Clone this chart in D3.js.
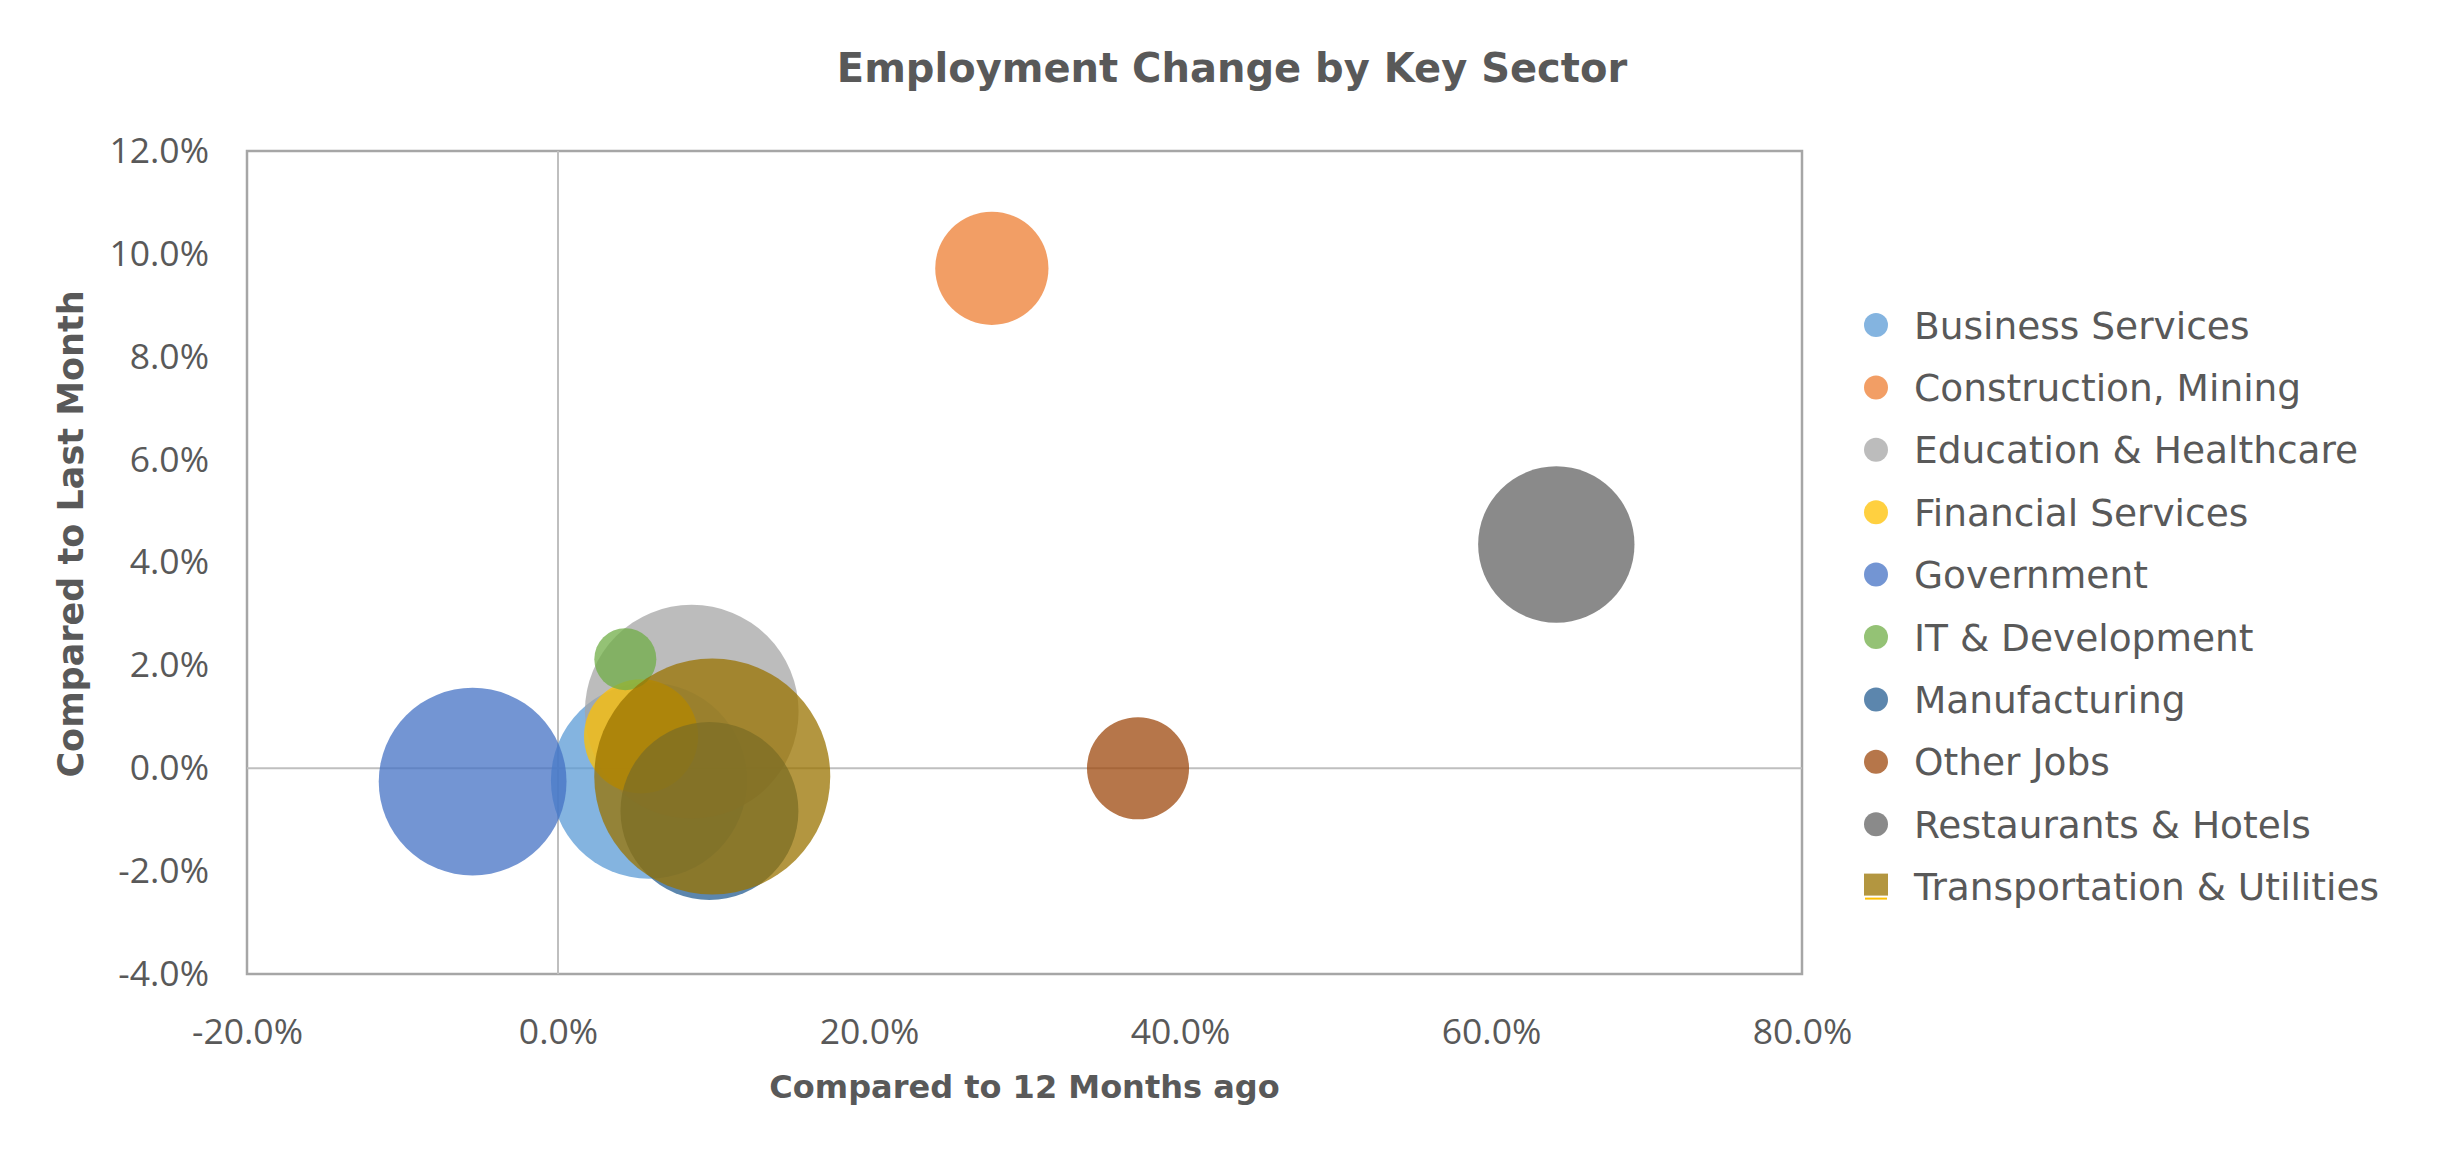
<!DOCTYPE html>
<html>
<head>
<meta charset="utf-8">
<script src="https://cdn.jsdelivr.net/npm/d3@7"></script>
<style>
  body { margin: 0; background: #ffffff; }
</style>
</head>
<body>
<div id="scatter"></div>
<script>
// data
var sectors = ["Business Services", "Construction, Mining", "Education & Healthcare",
  "Financial Services", "Government", "IT & Development", "Manufacturing",
  "Other Jobs", "Restaurants & Hotels", "Transportation & Utilities"];
var yearChange = [0.0585, 0.279, 0.086, 0.0534, -0.0549, 0.0433, 0.0974, 0.373, 0.642, 0.0992];
var monthChange = [-0.0024, 0.0972, 0.011, 0.0062, -0.0026, 0.0212, -0.0083, 0.0, 0.0435, -0.0016];
var bubbleSize = [96, 32, 114, 32.5, 88, 9.6, 79, 26, 61, 139];
var colors = ["#5B9BD5", "#ED7D31", "#A5A5A5", "#FFC000", "#4472C4", "#70AD47",
  "#255E91", "#9E480E", "#636363", "#997300"];
var xTicks = [-0.2, 0, 0.2, 0.4, 0.6, 0.8];
var xTickLabels = ["-20.0%", "0.0%", "20.0%", "40.0%", "60.0%", "80.0%"];
var yTicks = [-0.04, -0.02, 0, 0.02, 0.04, 0.06, 0.08, 0.1, 0.12];
var yTickLabels = ["-4.0%", "-2.0%", "0.0%", "2.0%", "4.0%", "6.0%", "8.0%", "10.0%", "12.0%"];

// chart setup
var svgWidth = 2464;
var svgHeight = 1173;

var margin = {
  top: 151,
  right: 662,
  bottom: 199,
  left: 247
};

var width = svgWidth - margin.left - margin.right;
var height = svgHeight - margin.top - margin.bottom;

var textColor = "#595959";

var svg = d3
  .select("#scatter")
  .append("svg")
  .attr("width", svgWidth)
  .attr("height", svgHeight);

var chartGroup = svg.append("g")
  .attr("transform", `translate(${margin.left}, ${margin.top})`);

// scales
var xScale = d3.scaleLinear().domain([-0.2, 0.8]).range([0, width]);
var yScale = d3.scaleLinear().domain([-0.04, 0.12]).range([height, 0]);
var rScale = d3.scaleSqrt().domain([0, d3.max(bubbleSize)]).range([0, 118]);

// rows for the bubbles
var rows = sectors.map((s, i) => ({
  name: s,
  x: yearChange[i],
  y: monthChange[i],
  size: bubbleSize[i],
  color: colors[i]
}));

// plot frame
chartGroup.append("rect")
  .attr("x", 0)
  .attr("y", 0)
  .attr("width", width)
  .attr("height", height)
  .attr("fill", "none")
  .attr("stroke", "#A6A6A6")
  .attr("stroke-width", 2.5);

// zero lines
chartGroup.append("line")
  .attr("x1", xScale(0)).attr("x2", xScale(0))
  .attr("y1", 0).attr("y2", height)
  .attr("stroke", "#BFBFBF")
  .attr("stroke-width", 2);

chartGroup.append("line")
  .attr("x1", 0).attr("x2", width)
  .attr("y1", yScale(0)).attr("y2", yScale(0))
  .attr("stroke", "#BFBFBF")
  .attr("stroke-width", 2);

// bubbles
chartGroup.selectAll("circle.bubble")
  .data(rows)
  .enter()
  .append("circle")
  .attr("class", "bubble")
  .attr("cx", d => xScale(d.x))
  .attr("cy", d => yScale(d.y))
  .attr("r", d => rScale(d.size))
  .attr("fill", d => d.color)
  .attr("fill-opacity", 0.75);

// axes
var bottomAxis = d3.axisBottom(xScale)
  .tickValues(xTicks)
  .tickFormat((d, i) => xTickLabels[i])
  .tickSize(0)
  .tickPadding(45);

var leftAxis = d3.axisLeft(yScale)
  .tickValues(yTicks)
  .tickFormat((d, i) => yTickLabels[i])
  .tickSize(0)
  .tickPadding(38);

var xAxis = chartGroup.append("g")
  .attr("transform", `translate(0, ${height})`)
  .call(bottomAxis);

var yAxis = chartGroup.append("g")
  .call(leftAxis);

[xAxis, yAxis].forEach(ax => {
  ax.select(".domain").remove();
  ax.selectAll("text")
    .attr("fill", textColor)
    .style("font-family", "'Open Sans', sans-serif")
    .style("font-size", "35.5px");
});

// title
svg.append("text")
  .attr("x", svgWidth / 2)
  .attr("y", 82)
  .attr("text-anchor", "middle")
  .attr("fill", textColor)
  .style("font-family", "'DejaVu Sans', sans-serif")
  .style("font-weight", "bold")
  .style("font-size", "40px")
  .text("Employment Change by Key Sector");

// axis titles
svg.append("text")
  .attr("x", margin.left + width / 2)
  .attr("y", 1098)
  .attr("text-anchor", "middle")
  .attr("fill", textColor)
  .style("font-family", "'DejaVu Sans', sans-serif")
  .style("font-weight", "bold")
  .style("font-size", "32px")
  .text("Compared to 12 Months ago");

svg.append("text")
  .attr("transform", "translate(83, 534) rotate(-90)")
  .attr("text-anchor", "middle")
  .attr("fill", textColor)
  .style("font-family", "'DejaVu Sans', sans-serif")
  .style("font-weight", "bold")
  .style("font-size", "35px")
  .text("Compared to Last Month");

// legend
var legend = svg.append("g")
  .attr("transform", "translate(1876, 325)");

var legendItems = legend.selectAll("g.item")
  .data(rows)
  .enter()
  .append("g")
  .attr("class", "item")
  .attr("transform", (d, i) => `translate(0, ${i * 62.4})`);

legendItems.each(function(d, i) {
  var g = d3.select(this);
  if (i === rows.length - 1) {
    // last marker is drawn as a square in the original
    g.append("rect")
      .attr("x", -12).attr("y", -13)
      .attr("width", 24).attr("height", 22)
      .attr("fill", d.color)
      .attr("fill-opacity", 0.75);
    g.append("line")
      .attr("x1", -11).attr("x2", 11)
      .attr("y1", 12).attr("y2", 12)
      .attr("stroke", "#FFC000")
      .attr("stroke-width", 2);
  } else {
    g.append("circle")
      .attr("r", 12)
      .attr("fill", d.color)
      .attr("fill-opacity", 0.75);
  }
  g.append("text")
    .attr("x", 38)
    .attr("dy", "0.36em")
    .attr("fill", textColor)
    .style("font-family", "'DejaVu Sans', sans-serif")
    .style("font-size", "37.5px")
    .text(d.name);
});
</script>
</body>
</html>
